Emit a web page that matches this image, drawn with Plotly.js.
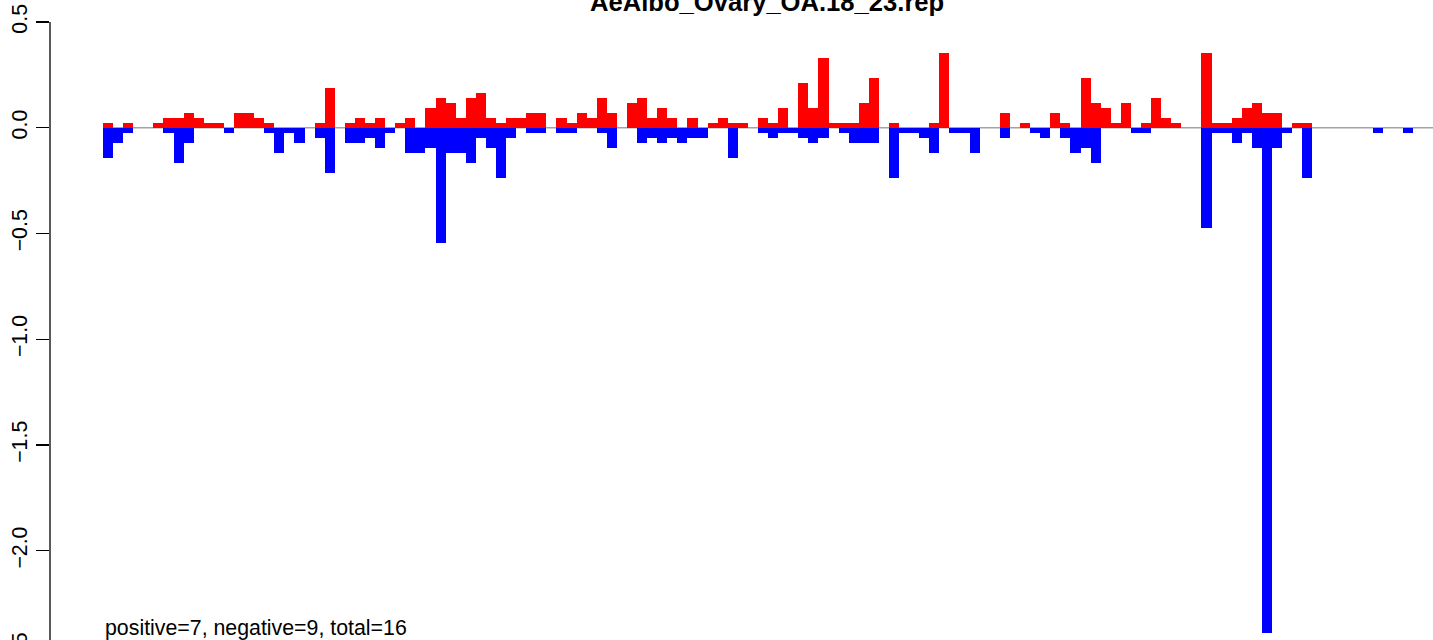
<!DOCTYPE html>
<html>
<head>
<meta charset="utf-8">
<script src="https://cdn.plot.ly/plotly-3.0.1.min.js"></script>
<style>
  html, body { margin: 0; padding: 0; width: 1433px; height: 640px; overflow: hidden; background: #fff; }
  #wrap { width: 1433px; height: 640px; overflow: hidden; position: relative; }
  #chart { position: absolute; left: 0; top: 0; }
</style>
</head>
<body>
<div id="wrap"><div id="chart"></div></div>
<script>
// ---- data ----
const chartTitle = "AeAlbo_Ovary_OA.18_23.rep";
const summaryText = "positive=7, negative=9, total=16";

const positiveValues = [
  0.024, 0, 0.024, 0, 0, 0.024, 0.047, 0.047, 0.071, 0.047,
  0.024, 0.024, 0, 0.071, 0.071, 0.047, 0.024, 0, 0, 0,
  0, 0.024, 0.189, 0, 0.024, 0.047, 0.024, 0.047, 0, 0.024,
  0.047, 0, 0.095, 0.142, 0.118, 0.047, 0.142, 0.165, 0.047, 0.024,
  0.047, 0.047, 0.071, 0.071, 0, 0.047, 0.024, 0.071, 0.047, 0.142,
  0.071, 0, 0.118, 0.142, 0.047, 0.095, 0.047, 0, 0.047, 0,
  0.024, 0.047, 0.024, 0.024, 0, 0.047, 0.024, 0.095, 0, 0.213,
  0.095, 0.331, 0.024, 0.024, 0.024, 0.118, 0.236, 0, 0.024, 0,
  0, 0, 0.024, 0.355, 0, 0, 0, 0, 0, 0.071,
  0, 0.024, 0, 0, 0.071, 0.024, 0, 0.236, 0.118, 0.095,
  0.024, 0.118, 0, 0.024, 0.142, 0.047, 0.024, 0, 0, 0.355,
  0.024, 0.024, 0.047, 0.095, 0.118, 0.071, 0.071, 0, 0.024, 0.024,
  0, 0, 0, 0, 0, 0, 0, 0, 0, 0
];

const negativeValues = [
  -0.142, -0.071, -0.024, 0, 0, 0, -0.024, -0.165, -0.071, 0,
  0, 0, -0.024, 0, 0, 0, -0.024, -0.118, -0.024, -0.071,
  0, -0.047, -0.213, 0, -0.071, -0.071, -0.047, -0.095, -0.024, 0,
  -0.118, -0.118, -0.095, -0.544, -0.118, -0.118, -0.165, -0.047, -0.095, -0.236,
  -0.047, 0, -0.024, -0.024, 0, -0.024, -0.024, 0, 0, -0.024,
  -0.095, 0, 0, -0.071, -0.047, -0.071, -0.047, -0.071, -0.047, -0.047,
  0, 0, -0.142, 0, 0, -0.024, -0.047, -0.024, -0.024, -0.047,
  -0.071, -0.047, 0, -0.024, -0.071, -0.071, -0.071, 0, -0.236, -0.024,
  -0.024, -0.047, -0.118, 0, -0.024, -0.024, -0.118, 0, 0, -0.047,
  0, 0, -0.024, -0.047, 0, -0.047, -0.118, -0.095, -0.165, 0,
  0, 0, -0.024, -0.024, 0, 0, 0, 0, 0, -0.473,
  -0.024, -0.024, -0.071, -0.024, -0.095, -2.388, -0.095, -0.024, 0, -0.236,
  0, 0, 0, 0, 0, 0, -0.024, 0, 0, -0.024
];

const yTickValues = [0.5, 0.0, -0.5, -1.0, -1.5, -2.0, -2.5];
const yTickLabels = ["0.5", "0.0", "\u22120.5", "\u22121.0", "\u22121.5", "\u22122.0", "\u22122.5"];

// bar positions: one unit-wide slot per bin
const binCenters = positiveValues.map((_, i) => i + 0.5);

const FONT = '"Liberation Sans", Arial, Helvetica, sans-serif';

const traces = [
  {
    type: 'bar', x: binCenters, y: positiveValues, width: 1,
    marker: { color: '#FF0000', line: { width: 0 } },
    hoverinfo: 'skip', showlegend: false
  },
  {
    type: 'bar', x: binCenters, y: negativeValues, width: 1,
    marker: { color: '#0000FF', line: { width: 0 } },
    hoverinfo: 'skip', showlegend: false
  }
];

const layout = {
  width: 1433, height: 700,
  margin: { l: 50, r: 0, t: 0, b: 20 },
  paper_bgcolor: '#ffffff', plot_bgcolor: '#ffffff',
  barmode: 'overlay', bargap: 0,
  font: { family: FONT, color: '#000000', size: 21.33 },
  xaxis: {
    range: [-5.26, 131.98], visible: false, fixedrange: true
  },
  yaxis: {
    range: [-2.611, 0.604], fixedrange: true,
    tickmode: 'array', tickvals: yTickValues, ticktext: yTickLabels,
    ticks: 'outside', ticklen: 13, tickwidth: 1.3, tickcolor: '#000000',
    tickangle: -90, tickfont: { family: FONT, size: 21.33, color: '#000000' },
    showgrid: false, zeroline: false, showline: false
  },
  shapes: [
    { type: 'line', xref: 'paper', yref: 'y', x0: 0, x1: 0, y0: -2.5, y1: 0.5,
      line: { color: '#000000', width: 1.3 }, layer: 'above' },
    { type: 'line', xref: 'x', yref: 'y', x0: 0, x1: 200, y0: 0, y1: 0,
      line: { color: '#A3A3A3', width: 1.6 }, layer: 'below' }
  ],
  annotations: [
    { text: '<b>' + chartTitle + '</b>', xref: 'paper', yref: 'y',
      x: 0.5184, y: 0.517, xanchor: 'center', yanchor: 'bottom', showarrow: false,
      font: { family: FONT, size: 25.6, color: '#000000' } },
    { text: summaryText, xref: 'x', yref: 'y',
      x: 0, y: -2.429, xanchor: 'left', yanchor: 'bottom', showarrow: false,
      font: { family: FONT, size: 21.33, color: '#000000' } }
  ]
};

Plotly.newPlot('chart', traces, layout, { displayModeBar: false, staticPlot: true });
</script>
</body>
</html>
